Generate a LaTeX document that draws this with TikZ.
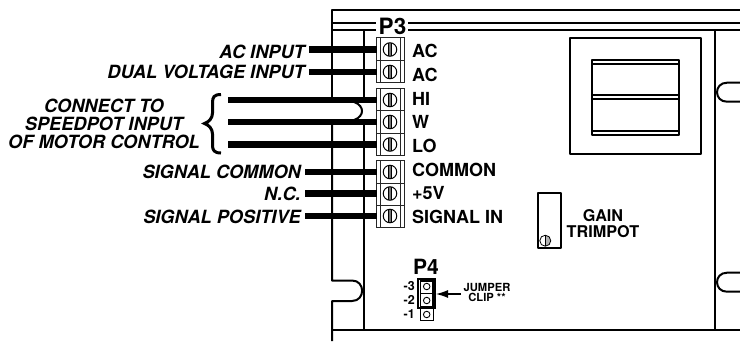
\documentclass[tikz,border=0pt]{standalone}
\usepackage{fontspec}
\setmainfont{TeX Gyre Heros}
\usetikzlibrary{arrows.meta}
\tikzset{
 x=1pt,y=-1pt,
 frame/.style={line width=2pt,line join=round},
 wire/.style={line width=6.2pt},
 thin box/.style={draw=black!85,line width=0.9pt},
 lab/.style={font=\bfseries\fontsize{18}{18}\selectfont,anchor=west,inner sep=0pt},
 ilab/.style={font=\bfseries\itshape\fontsize{18.2}{18}\selectfont,anchor=east,inner sep=0pt},
 conn/.style={circle,draw,line width=1pt,minimum size=13.5pt,inner sep=0pt,
   path picture={\fill[black!55] (path picture bounding box.north) ++(-1.5pt,0) rectangle ([xshift=1.5pt]path picture bounding box.south);
   \draw[line width=0.7pt] (path picture bounding box.north) ++(-1.8pt,0) -- ++(0,-14pt);
   \draw[line width=0.7pt] (path picture bounding box.north) ++(1.8pt,0) -- ++(0,-14pt);}},
 trimscrew/.style={circle,draw,line width=0.8pt,minimum size=11pt,inner sep=0pt,
   path picture={\fill[black!30] (path picture bounding box.north) rectangle (path picture bounding box.south east);
   \draw[line width=0.6pt] (path picture bounding box.north) -- (path picture bounding box.south);}},
 pin/.style={circle,draw,line width=0.9pt,minimum size=6.5pt,inner sep=0pt},
 small/.style={font=\bfseries\fontsize{11.2}{10.5}\selectfont,align=center,inner sep=0pt},
 pinno/.style={font=\bfseries\fontsize{12.5}{12.5}\selectfont,anchor=east,inner sep=0pt},
}
\begin{document}
\begin{tikzpicture}
\useasboundingbox (0,0) rectangle (740,341);
\fill[white] (0,0) rectangle (740,341);
% chassis
\draw[frame] (740,9.5) -- (332,9.5) -- (332,100);
\draw[frame] (332,122) -- (332,280.5) -- (352,280.5) .. controls (365.5,280.5) and (365.5,301) .. (352,301) -- (332,301) -- (332,341);
\draw[frame] (332,23) -- (376,23) (408,23) -- (740,23);
\draw[frame] (332,29.5) -- (376,29.5) (408,29.5) -- (740,29.5);
\draw[frame] (363.5,30) -- (363.5,100) (363.5,122) -- (363.5,330);
\draw[frame] (332,330) -- (740,330);
\draw[frame] (715,30) -- (715,330);
\draw[line width=2pt] (354,102) .. controls (360,104) and (362,108) .. (362,111) .. controls (362,114) and (360,118) .. (354,120);
\draw[frame] (740,82.7) -- (727,82.7) .. controls (713.7,82.7) and (713.7,101.7) .. (727,101.7) -- (740,101.7);
\draw[frame] (740,272.7) -- (727,272.7) .. controls (713.7,272.7) and (713.7,291.7) .. (727,291.7) -- (740,291.7);
% display window
\draw[frame] (570,38) rectangle (700.5,154);
\draw[frame] (592,60) rectangle (679,135);
\draw[frame] (592,64) -- (679,64) (592,95) -- (679,95) (592,99) -- (679,99) (592,131) -- (679,131);
% trimpot
\draw[frame] (538,193) rectangle (560.5,248);
\node[trimscrew] (trim) at (545.3,240.7) {};
% terminal blocks
\foreach \t/\b/\rows in {37.7/82.7/{60},88/155/{110.5,133},160/227/{183,205}}{
 \draw[thin box] (376.7,\t) rectangle (404,\b);
 \draw[thin box] (380,\t) -- (380,\b) (400,\t) -- (400,\b);
 \foreach \r in \rows {\draw[thin box] (376.7,\r) -- (404,\r);}
}
\foreach \n/\y in {a/49.5,b/72,c/100,d/122,e/144.5,f/172,g/193.5,h/216}{
 \node[conn] (s\n) at (390,\y) {};
 \coordinate (t\n) at (377,\y);
}
% wires
\coordinate (wa) at (309,49.5);
\coordinate (wb) at (309,72);
\coordinate (wc) at (228,100);
\coordinate (wd) at (228,122);
\coordinate (we) at (228,144.5);
\coordinate (wf) at (305,172);
\coordinate (wg) at (305,193.5);
\coordinate (wh) at (305,216);
\foreach \n in {a,b,c,d,e,f,g,h}{\draw[wire] (w\n) -- (t\n);}
% labels right
\node[lab] (la) at (412,50.5) {AC};
\node[lab] (lb) at (412,74.5) {AC};
\node[lab] (lc) at (412,99) {HI};
\node[lab] (ld) at (412,122) {W};
\node[lab] (le) at (412,146) {LO};
\node[lab] (lf) at (412,169.5) {COMMON};
\node[lab] (lg) at (412,193.5) {+5V};
\node[lab] (lh) at (412,217) {SIGNAL IN};
% labels left
\node[ilab] (ia) at (305,51.7) {AC INPUT};
\node[ilab] (ib) at (305,71.7) {DUAL VOLTAGE INPUT};
\node[ilab] (ic) at (301,172) {SIGNAL COMMON};
\node[ilab] (id) at (301,194) {N.C.};
\node[ilab] (ie) at (301,216.7) {SIGNAL POSITIVE};
\node[font=\bfseries\itshape\fontsize{18.2}{18}\selectfont,align=center,inner sep=0pt] (motor) at (104,123.5) {CONNECT TO\\SPEEDPOT INPUT\\OF MOTOR CONTROL};
% brace
\draw[line width=3pt] (221,94.5) .. controls (214,94.5) and (212.5,97) .. (212.5,103) -- (212.5,113) .. controls (212.5,118) and (209,122) .. (204.5,123.5) .. controls (209,125) and (212.5,129) .. (212.5,134) -- (212.5,145) .. controls (212.5,150) and (214,153) .. (221,153);
% P3
\node[font=\bfseries\fontsize{22.5}{22.5}\selectfont,inner sep=0pt] (p3) at (392.5,26.5) {P3};
% gain
\node[font=\bfseries\fontsize{16.2}{16.5}\selectfont,align=center,inner sep=0pt] (gain) at (603,223.5) {GAIN\\TRIMPOT};
% P4
\node[font=\bfseries\fontsize{21}{21}\selectfont,inner sep=0pt] (p4) at (426,267) {P4};
\draw[line width=1.1pt] (418,279) rectangle (435,308);
\draw[line width=1.1pt] (420.5,281) rectangle (433,306.5);
\draw[line width=1.4pt] (420.5,293.5) -- (433,293.5);
\draw[line width=0.9pt] (420.5,308) rectangle (433,320);
\node[pin] (p3p) at (426.7,286.5) {};
\node[pin] (p2p) at (426.7,300.5) {};
\node[pin] (p1p) at (426.7,314.5) {};
\node[pinno] (n3) at (415,286.5) {-3};
\node[pinno] (n2) at (415,300) {-2};
\node[pinno] (n1) at (415,314) {-1};
\node[small] (jc) at (487,292.5) {JUMPER\\CLIP **};
\draw[line width=1.2pt,-{Latex[length=12pt,width=8pt]}] (461,294) -- (436,294);
\end{tikzpicture}
\end{document}
